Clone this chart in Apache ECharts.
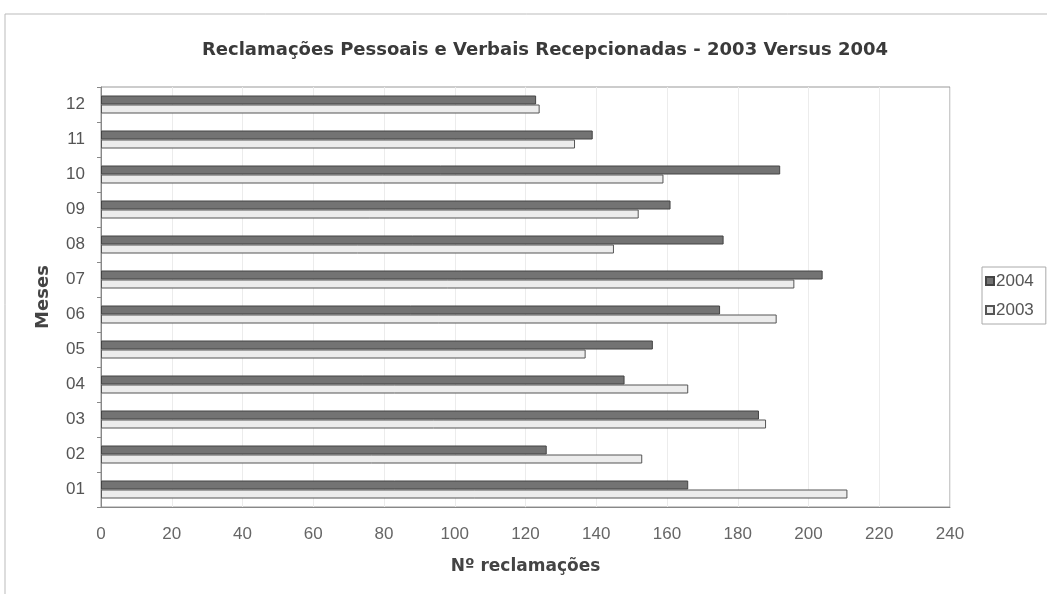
<!DOCTYPE html>
<html><head><meta charset="utf-8">
<script src="https://cdn.jsdelivr.net/npm/echarts@6/dist/echarts.min.js"></script>
<style>html,body{margin:0;padding:0;background:#fff}#c{width:1047px;height:594px}</style>
</head><body><div id="c"></div>
<script>
const months = ['01','02','03','04','05','06','07','08','09','10','11','12'];
const v2004 = [166,126,186,148,156,175,204,176,161,192,139,123];
const v2003 = [211,153,188,166,137,191,196,145,152,159,134,124];
const xTicks = [0,20,40,60,80,100,120,140,160,180,200,220,240];

const chart = echarts.init(document.getElementById('c'));
chart.setOption({
  backgroundColor: '#fff',
  animation: false,
  title: {
    text: 'Reclamações Pessoais e Verbais Recepcionadas - 2003 Versus 2004',
    left: 540, top: 36, textAlign: 'center',
    textStyle: {fontFamily: 'DejaVu Sans', fontSize: 18, fontWeight: 'bold', color: '#3a3a3a'}
  },
  graphic: [
    {type: 'rect', shape: {x: 5, y: 14, width: 1100, height: 640}, style: {fill: 'none', stroke: '#bbb', lineWidth: 1}, silent: true}
  ],
  legend: {
    data: ['2004','2003'],
    orient: 'vertical', left: 982, top: 267,
    icon: 'rect',
    itemWidth: 8, itemHeight: 8, itemGap: 11,
    borderColor: '#aaa', borderWidth: 1, padding: [5, 12, 5, 3],
    textStyle: {fontFamily: 'Liberation Sans, Arial', fontSize: 17, lineHeight: 18, color: '#555', padding: [0,0,0,-3]}
  },
  grid: {left: 101, right: 97, top: 87, bottom: 87, show: true, borderColor: '#999', borderWidth: 1},
  xAxis: {
    type: 'value', min: 0, max: 240, interval: 20,
    name: 'Nº reclamações', nameLocation: 'middle', nameGap: 51,
    nameTextStyle: {fontFamily: 'DejaVu Sans', fontSize: 17, fontWeight: 'bold', color: '#444'},
    axisLine: {show: true, lineStyle: {color: '#888'}},
    axisTick: {show: false},
    axisLabel: {fontFamily: 'Liberation Sans, Arial', fontSize: 17, color: '#666', margin: 19,
      formatter: v => xTicks.includes(v) ? String(v) : ''},
    splitLine: {show: true, lineStyle: {color: '#ececec'}}
  },
  yAxis: {
    type: 'category', data: months,
    name: 'Meses', nameLocation: 'middle', nameGap: 49,
    nameTextStyle: {fontFamily: 'DejaVu Sans', fontSize: 18, fontWeight: 'bold', color: '#444'},
    axisLine: {show: true, lineStyle: {color: '#888'}},
    axisTick: {show: true, length: 4, lineStyle: {color: '#888'}},
    axisLabel: {fontFamily: 'Liberation Sans, Arial', fontSize: 17, color: '#555', margin: 16},
    splitLine: {show: false}
  },
  series: [
    {name: '2004', type: 'bar', data: v2004, barWidth: 9, barGap: '0%',
      itemStyle: {color: '#737373', borderColor: '#444', borderWidth: 1}},
    {name: '2003', type: 'bar', data: v2003, barWidth: 9, barGap: '0%',
      itemStyle: {color: '#ececec', borderColor: '#555', borderWidth: 1}}
  ]
});
</script></body></html>
